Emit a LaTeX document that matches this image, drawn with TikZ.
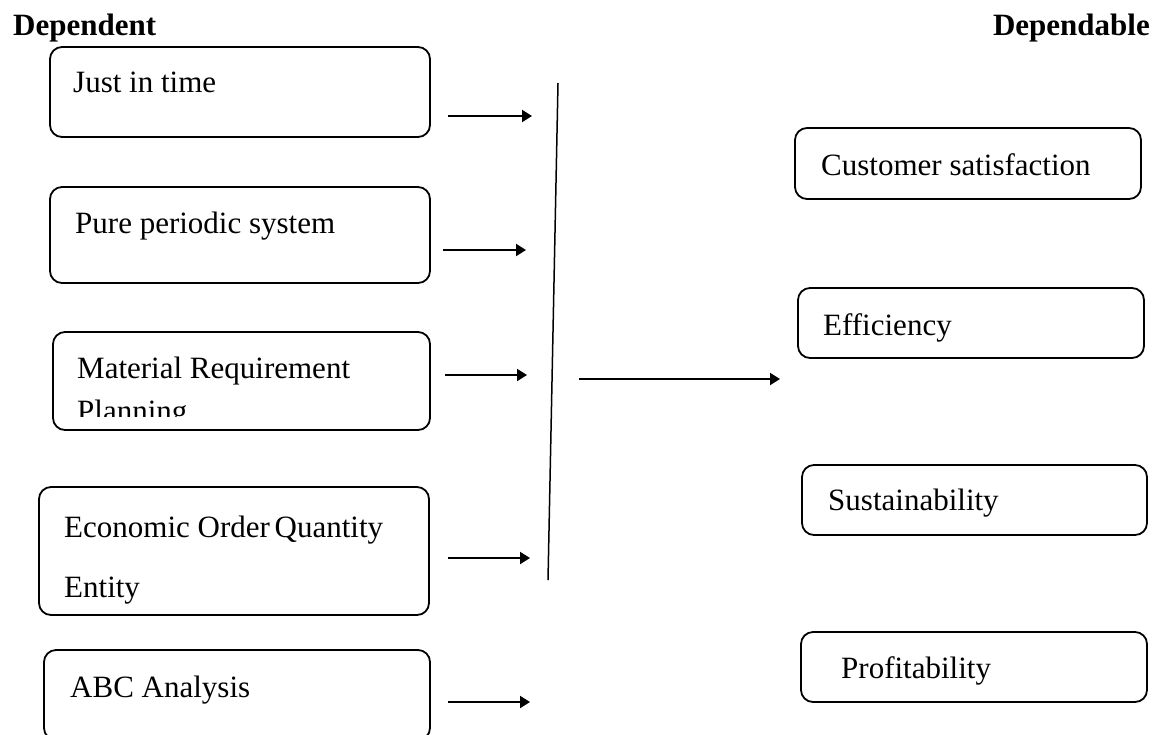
\documentclass[tikz,border=0pt]{standalone}
\usepackage{fontspec}
\setmainfont{Liberation Serif}
\usetikzlibrary{fit,arrows.meta}
\newcommand\boxfs{\fontsize{31pt}{37pt}\selectfont}
\begin{document}
\begin{tikzpicture}[x=1pt,y=-1pt,
  rbox/.style={draw=black,line width=1.8pt,rounded corners=12pt,inner sep=0pt},
  lbl/.style={anchor=base west,inner sep=0pt,font=\boxfs},
  head/.style={inner sep=0pt,font=\boxfs\bfseries},
  arr/.style={line width=2pt,-{Triangle[length=10pt,width=12pt]}},
  vln/.style={line width=1.5pt}]
\useasboundingbox (0,0) rectangle (1155,734);
\clip (0,0) rectangle (1155,734);
% headings
\node[head,anchor=base west] (hdep) at (13,35) {Dependent};
\node[head,anchor=base east] (hdbl) at (1150,35) {Dependable};
% left boxes
\node[rbox,fit={(50,47) (430,137)}] (b1) {};
\node[rbox,fit={(50,187) (430,283)}] (b2) {};
\node[rbox,fit={(53,332) (430,430)}] (b3) {};
\node[rbox,fit={(39,487) (429,615)}] (b4) {};
\node[rbox,fit={(44,650) (430,740)}] (b5) {};
\node[lbl] (t1) at (73,92) {Just in time};
\node[lbl] (t2) at (75,233) {Pure periodic system};
\node[lbl] (t3) at (77,378) {Material Requirement};
\begin{scope}
\clip (53,332) rectangle (430,416);
\node[lbl] (t3b) at (77,421) {Planning};
\end{scope}
\node[lbl] (t4) at (64,537) {Economic Order\hspace{-3pt} Quantity};
\node[lbl] (t4b) at (64,597) {Entity};
\node[lbl] (t5) at (70,697) {ABC Analysis};
% right boxes
\node[rbox,fit={(795,128) (1141,199)}] (r1) {};
\node[rbox,fit={(798,288) (1144,358)}] (r2) {};
\node[rbox,fit={(802,465) (1147,535)}] (r3) {};
\node[rbox,fit={(801,632) (1147,702)}] (r4) {};
\node[lbl] (s1) at (821,175) {Customer satisfaction};
\node[lbl] (s2) at (823,335) {Efficiency};
\node[lbl] (s3) at (828,510) {Sustainability};
\node[lbl] (s4) at (841,678) {Profitability};
% arrows
\coordinate (a1s) at (448,116); \coordinate (a1e) at (532,116);
\coordinate (a2s) at (443,250); \coordinate (a2e) at (526,250);
\coordinate (a3s) at (445,375); \coordinate (a3e) at (527,375);
\coordinate (a4s) at (448,558); \coordinate (a4e) at (530,558);
\coordinate (a5s) at (448,702); \coordinate (a5e) at (530,702);
\coordinate (ms) at (579,379); \coordinate (me) at (780,379);
\coordinate (vt) at (558,83); \coordinate (vb) at (548,580);
\draw[arr] (a1s) -- (a1e);
\draw[arr] (a2s) -- (a2e);
\draw[arr] (a3s) -- (a3e);
\draw[arr] (a4s) -- (a4e);
\draw[arr] (a5s) -- (a5e);
\draw[arr] (ms) -- (me);
\draw[vln] (vt) -- (vb);
\end{tikzpicture}
\end{document}
